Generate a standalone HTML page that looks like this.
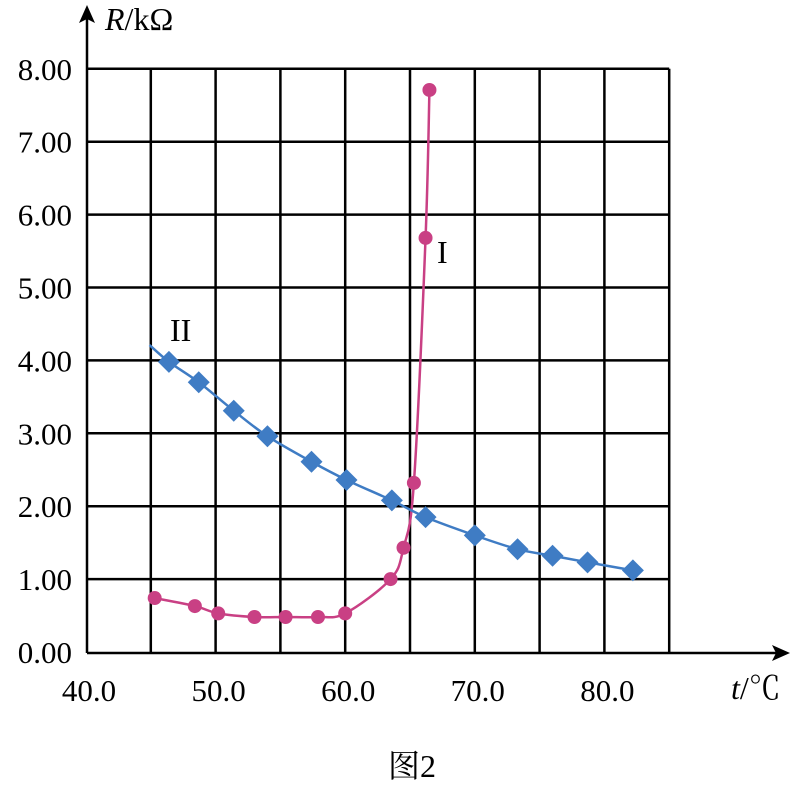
<!DOCTYPE html>
<html><head><meta charset="utf-8"><style>
body{margin:0;background:#fff;width:800px;height:781px;overflow:hidden}
text{font-family:"Liberation Serif","Noto Serif CJK SC",serif;fill:#000}
</style></head><body>
<svg width="800" height="781" viewBox="0 0 800 781">
<g id="grid"></g>
<g id="axes">
<line x1="87" y1="653" x2="778" y2="653" stroke="#000" stroke-width="2.5"/>
<polygon points="790,653 772,645 776,653 772,661" fill="#000"/>
<line x1="87" y1="653" x2="87" y2="16" stroke="#000" stroke-width="2.5"/>
<polygon points="87,5 79,23 87,19 95,23" fill="#000"/>
</g>
<g id="ticks"></g>
<text x="105" y="30" font-size="32"><tspan font-style="italic">R</tspan>/kΩ</text>
<text x="731" y="699" font-size="32"><tspan font-style="italic">t</tspan>/℃</text>
<text x="388" y="777" font-size="32">图2</text>
<text x="437" y="263" font-size="32">I</text>
<text x="170" y="341" font-size="32">II</text>
<g id="series"></g>
</svg>
<script>
const yTicks=[0,1,2,3,4,5,6,7,8];
const yTickLabels=["0.00","1.00","2.00","3.00","4.00","5.00","6.00","7.00","8.00"];
const xGrid=[45,50,55,60,65,70,75,80,85];
const xTicks=[40,50,60,70,80];
const xTickLabels=["40.0","50.0","60.0","70.0","80.0"];
const t1=[45.3,48.4,50.2,53.0,55.4,57.9,60.0,63.5,64.5,65.3,66.2,66.5];
const r1=[0.74,0.63,0.53,0.48,0.48,0.48,0.53,1.0,1.43,2.32,5.68,7.71];
const t2=[46.4,48.7,51.4,54.0,57.4,60.1,63.6,66.2,70.0,73.3,76.0,78.7,82.2];
const r2=[3.98,3.70,3.31,2.96,2.61,2.36,2.08,1.85,1.60,1.41,1.32,1.23,1.12];
const line2Start=[44.9,4.21];
const X=v=>86+(v-40)*12.96, Y=v=>652-v*72.9;
const NS="http://www.w3.org/2000/svg";
function mk(tag,attrs,parent){const e=document.createElementNS(NS,tag);for(const k in attrs)e.setAttribute(k,attrs[k]);parent.appendChild(e);return e;}
const grid=document.getElementById('grid'),ticks=document.getElementById('ticks'),ser=document.getElementById('series');
yTicks.forEach((v,i)=>{
 if(v>0){const l=mk('line',{x1:87,x2:X(85),y1:Y(v),y2:Y(v),stroke:'#000','stroke-width':2.5},grid);
 
 }
 const t=mk('text',{x:72,y:Y(v)+11,'font-size':31,'text-anchor':'end'},ticks);t.textContent=yTickLabels[i];
 
 
});
xGrid.forEach(v=>{const l=mk('line',{x1:X(v),x2:X(v),y1:Y(8),y2:653,stroke:'#000','stroke-width':2.5},grid);
 
 });
xTicks.forEach((v,i)=>{const t=mk('text',{x:X(v)+3,y:701,'font-size':31,'text-anchor':'middle'},ticks);t.textContent=xTickLabels[i];
 
 });
function spline(pts){let d=`M${pts[0][0]},${pts[0][1]}`;for(let i=0;i<pts.length-1;i++){const p0=pts[Math.max(i-1,0)],p1=pts[i],p2=pts[i+1],p3=pts[Math.min(i+2,pts.length-1)];
 const c1=[p1[0]+(p2[0]-p0[0])/6,p1[1]+(p2[1]-p0[1])/6],c2=[p2[0]-(p3[0]-p1[0])/6,p2[1]-(p3[1]-p1[1])/6];
 d+=` C${c1[0]},${c1[1]} ${c2[0]},${c2[1]} ${p2[0]},${p2[1]}`;}return d;}
const p1=t1.map((t,i)=>[X(t),Y(r1[i])]);
const p2=[[X(line2Start[0]),Y(line2Start[1])]].concat(t2.map((t,i)=>[X(t),Y(r2[i])]));
const c1=mk('path',{d:spline(p1),fill:'none',stroke:'#c94084','stroke-width':2.5},ser);


const c2=mk('path',{d:spline(p2),fill:'none',stroke:'#3f7cc4','stroke-width':2.5},ser);


p1.forEach(p=>{const c=mk('circle',{cx:p[0],cy:p[1],r:7,fill:'#c94084'},ser);
 
 });
t2.forEach((t,i)=>{const x=X(t),y=Y(r2[i]),s=11;const d=mk('polygon',{points:`${x},${y-s} ${x+s},${y} ${x},${y+s} ${x-s},${y}`,fill:'#3f7cc4'},ser);
 
 });
</script>
</body></html>
